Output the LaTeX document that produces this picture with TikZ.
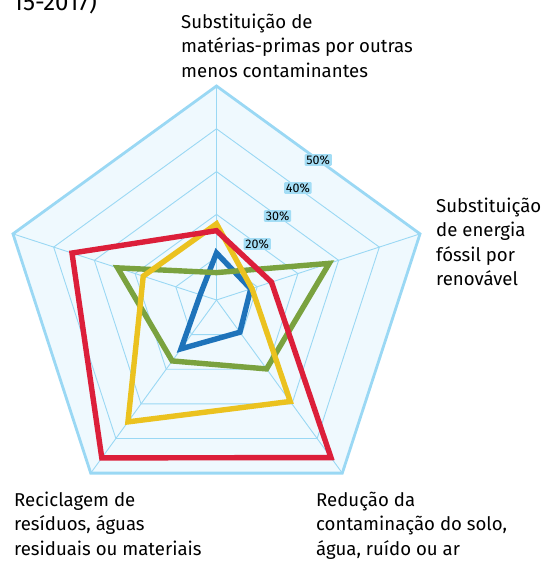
\documentclass[tikz,border=0pt]{standalone}
\usepackage{fontspec}
\setmainfont{Fira Sans}
\usetikzlibrary{calc}
\definecolor{gridblue}{HTML}{9AD8F4}
\definecolor{paneblue}{HTML}{EFF9FE}
\definecolor{tagblue}{HTML}{A3DDF5}
\definecolor{serblue}{HTML}{1E73BA}
\definecolor{sergreen}{HTML}{7AA23F}
\definecolor{seryellow}{HTML}{EBC21F}
\definecolor{serred}{HTML}{DC1F3A}
\def\RadarWeb#1#2{%
 \tikzset{web pane/.style={fill=paneblue, draw=gridblue, line width=2.8pt, line join=miter},
     web ring/.style={draw=gridblue, line width=0.9pt},
     web tag/.style={fill=tagblue, inner xsep=1.8pt, inner ysep=1.2pt, rounded corners=1pt,
           font=\fontsize{12.5}{12.5}\selectfont},
     series line/.style={line width=5.4pt, line join=miter, miter limit=10},
     axis label/.style={anchor=north west, align=left, inner sep=0pt,
           font=\fontsize{18.6}{24.5}\selectfont}
     }
  \def\stepsize{#2}
  \coordinate (Centre) at (#1);
  \begin{scope}[shift=(Centre)]
    \draw[web pane] (90:5*#2) \foreach \a in {18,-54,-126,162}{ -- (\a:5*#2)} -- cycle;
    \foreach \r in {1,...,4}
      \draw[web ring] (90:\r*#2) \foreach \a in {18,-54,-126,162}{ -- (\a:\r*#2)} -- cycle;
    \foreach \a in {90,18,-54,-126,162}
      \draw[web ring] (0,0) -- (\a:5*#2);
    \foreach \r/\p in {2/20,3/30,4/40,5/50}
      \node[web tag] (Tag\p) at (54:0.809*\r*#2) {\p\%};
  \end{scope}
}
\def\RadarSeries#1#2#3#4#5#6{%
\begin{scope}[shift=(Centre)]
  \draw[series line, draw=#1] (90:#2*\stepsize/10) -- (18:#3*\stepsize/10)
    -- (-54:#4*\stepsize/10) -- (-126:#5*\stepsize/10) -- (162:#6*\stepsize/10) -- cycle;
\end{scope}
}

\begin{document}
\begin{tikzpicture}[x=1pt, y=1pt]
\useasboundingbox (0,0) rectangle (544,-561);
\RadarWeb{216.5,-300}{42.8}
\RadarSeries{serblue}{11}{8.4}{9.3}{14.1}{4}
\RadarSeries{sergreen}{6.4}{27.7}{19.9}{17.6}{24.3}
\RadarSeries{seryellow}{17.8}{8.7}{29.3}{35.2}{18}
\RadarSeries{serred}{16.2}{13.5}{45.5}{45.6}{35.5}
\node[axis label] (LabTop) at (181,-13.5) {Substituição de\\matérias-primas por outras\\menos contaminantes};
\node[axis label] (LabRight) at (436,-197.5) {Substituição\\de energia\\fóssil por\\renovável};
\node[axis label] (LabLeft) at (14,-491.5) {Reciclagem de\\resíduos, águas\\residuais ou materiais};
\node[axis label] (LabLow) at (316,-491.5) {Redução da\\contaminação do solo,\\água, ruído ou ar};
\node[anchor=base east, inner sep=0pt, font=\fontsize{24}{24}\selectfont] (Title) at (97,-11) {15-2017)};
\end{tikzpicture}
\end{document}
